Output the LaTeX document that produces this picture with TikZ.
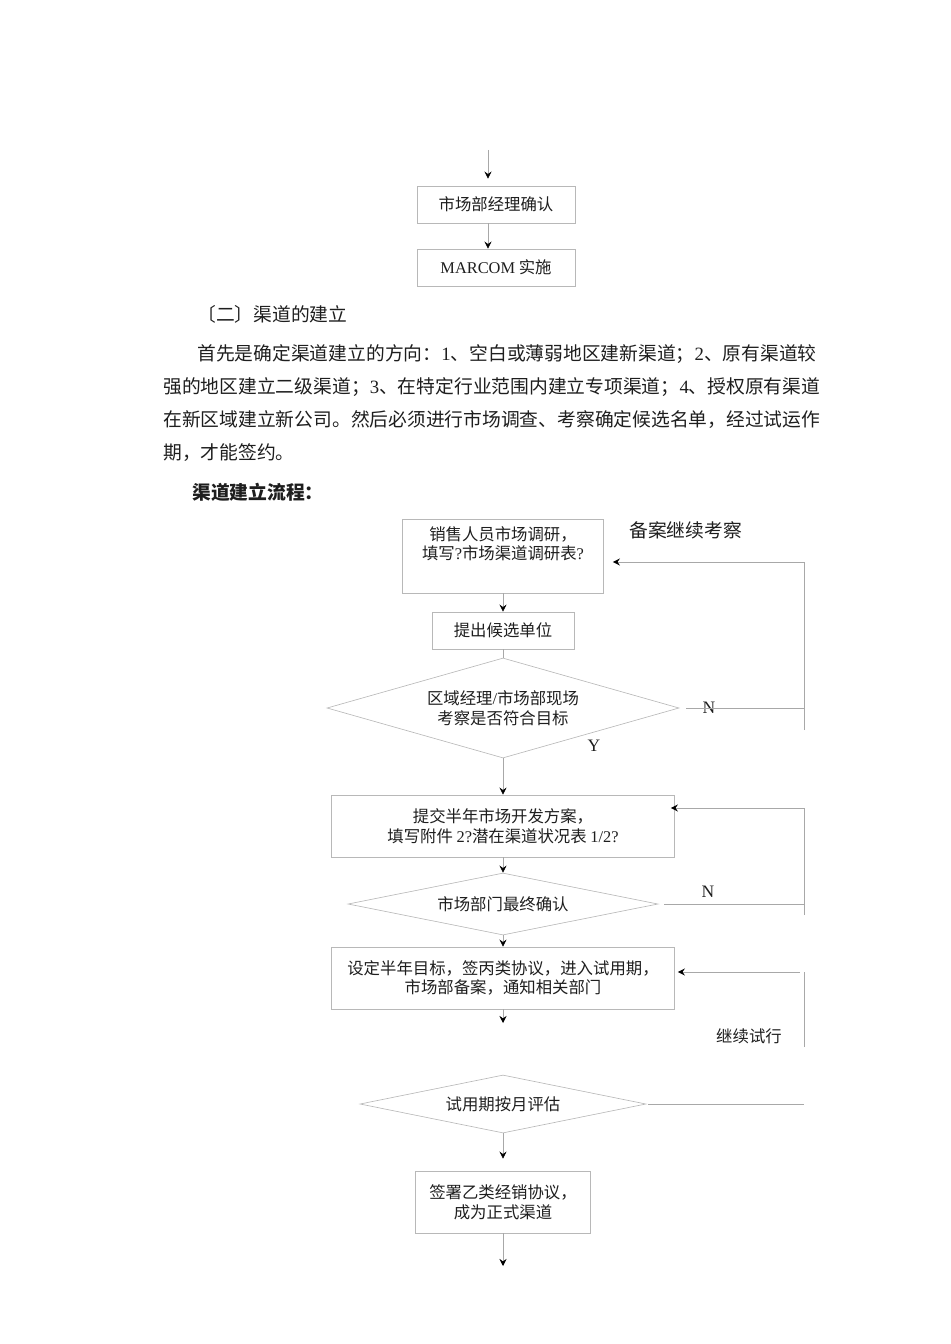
\documentclass[tikz,border=0pt]{standalone}
\usepackage{fontspec}
\setmainfont{Liberation Serif}
\newfontfamily\cjk{Noto Sans CJK SC}
\usetikzlibrary{shapes.geometric,arrows.meta,calc}
\newcommand\lt[1]{{\rmfamily #1}}
\definecolor{boxgray}{HTML}{B8B8B8}
\definecolor{linegray}{HTML}{A8A8A8}
\definecolor{ink}{HTML}{1E1E1E}

\begin{document}
\begin{tikzpicture}[x=0.0221cm, y=-0.0221cm, text=ink,
    font=\cjk\fontsize{10.3}{12.4}\selectfont,
    box/.style={draw=boxgray, rectangle, inner sep=0pt, align=center},
    dec/.style={draw=boxgray, diamond, inner sep=0pt, align=center},
    link/.style={draw=linegray},
    arr/.style={draw=linegray, -{Stealth[length=4.5pt, width=4.5pt, inset=1.6pt, black]}},
    txt/.style={font=\cjk\fontsize{11.8}{14}\selectfont, anchor=west, inner sep=0pt},
    yn/.style={font=\rmfamily\fontsize{11}{13}\selectfont, inner sep=0pt}]
  \def\pu{0.0221cm}
  \useasboundingbox (0,0) rectangle (950,1344);

  % top of the page
  \coordinate (top) at (488,150);
  \node[box, minimum width=158*\pu, minimum height=37*\pu] (confirm) at (496,204.5) {市场部经理确认};
  \node[box, minimum width=158*\pu, minimum height=37*\pu] (marcom) at (496,267.5) {\lt{MARCOM} 实施};
  \draw[arr, shorten >=7*\pu] (top) -- (top |- confirm.north);
  \draw[arr] (top |- confirm.south) -- (top |- marcom.north);

  % text
  \node[txt] (sec) at (197,314) {〔二〕渠道的建立};
  \node[txt] (p1) at (197,354) {首先是确定渠道建立的方向：\lt{1}、空白或薄弱地区建新渠道；\lt{2}、原有渠道较};
  \node[txt] (p2) at (163,387) {强的地区建立二级渠道；\lt{3}、在特定行业范围内建立专项渠道；\lt{4}、授权原有渠道};
  \node[txt] (p3) at (163,420) {在新区域建立新公司。然后必须进行市场调查、考察确定候选名单，经过试运作};
  \node[txt] (p4) at (163,453) {期，才能签约。};
  \node[txt, font=\cjk\bfseries\fontsize{11.8}{14}\selectfont] (title) at (192,492) {渠道建立流程：};

  % flow
  \node[box, minimum width=201*\pu, minimum height=74*\pu] (survey) at (503,556) {销售人员市场调研，\\填写\lt{?}市场渠道调研表\lt{?}\\\strut};
  \node[txt] (filed) at (629,530) {备案继续考察};
  \node[box, minimum width=142*\pu, minimum height=37*\pu] (cand) at (503,630.5) {提出候选单位};
  \node[dec, aspect=3.5, minimum width=352*\pu, minimum height=100*\pu] (visit) at (503,708) {区域经理\lt{/}市场部现场\\考察是否符合目标};
  \node[yn] (n1) at (709,708) {N};
  \node[yn] (y1) at (594,746) {Y};
  \node[box, minimum width=343*\pu, minimum height=62*\pu] (plan) at (503,826) {提交半年市场开发方案，\\填写附件 \lt{2?}潜在渠道状况表 \lt{1/2?}};
  \node[dec, aspect=5, minimum width=310*\pu, minimum height=62*\pu] (final) at (503,904) {市场部门最终确认};
  \node[yn] (n2) at (708,892) {N};
  \node[box, minimum width=343*\pu, minimum height=62*\pu] (trial) at (503,978) {设定半年目标，签丙类协议，进入试用期，\\市场部备案，通知相关部门};
  \node (goon) at (749,1036) {继续试行};
  \node[dec, aspect=4.9, minimum width=286*\pu, minimum height=58*\pu] (assess) at (503,1104) {试用期按月评估};
  \node[box, minimum width=175*\pu, minimum height=62*\pu] (sign) at (503,1202) {签署乙类经销协议，\\成为正式渠道};

  \coordinate (r1) at (804,562);
  \coordinate (r1b) at (804,730);
  \coordinate (r2) at (804,808);
  \coordinate (r2b) at (804,915);
  \coordinate (r3) at (804,972);
  \coordinate (r3b) at (804,1047);
  \coordinate (trend) at (503,1023);
  \coordinate (end) at (503,1266);

  \draw[arr] (survey.south) -- (cand.north);
  \draw[link] (cand.south) -- (visit.north);
  \draw[arr] (visit.south) -- (plan.north);
  \draw[arr] (plan.south) -- (final.north);
  \draw[arr] (final.south) -- (trial.north);
  \draw[arr] (trial.south) -- (trend);
  \draw[arr, shorten >=12*\pu] (assess.south) -- (sign.north);
  \draw[arr] (sign.south) -- (end);

  \draw[link] ([xshift=7*\pu]visit.east) -- (visit.east -| r1);
  \draw[link] (r1b) -- (r1);
  \draw[arr, shorten >=9*\pu] (r1) -- (survey.east |- r1);

  \draw[link] ([xshift=6*\pu]final.east) -- (final.east -| r2);
  \draw[link] (r2b) -- (r2);
  \draw[arr, shorten >=-4*\pu] (r2) -- (plan.east |- r2);

  \draw[link] (r3b) -- (r3);
  \draw[arr, shorten >=3*\pu] ([xshift=-4*\pu]r3) -- (trial.east |- r3);
  \draw[link] ([xshift=2*\pu]assess.east) -- (assess.east -| r3);
\end{tikzpicture}
\end{document}
